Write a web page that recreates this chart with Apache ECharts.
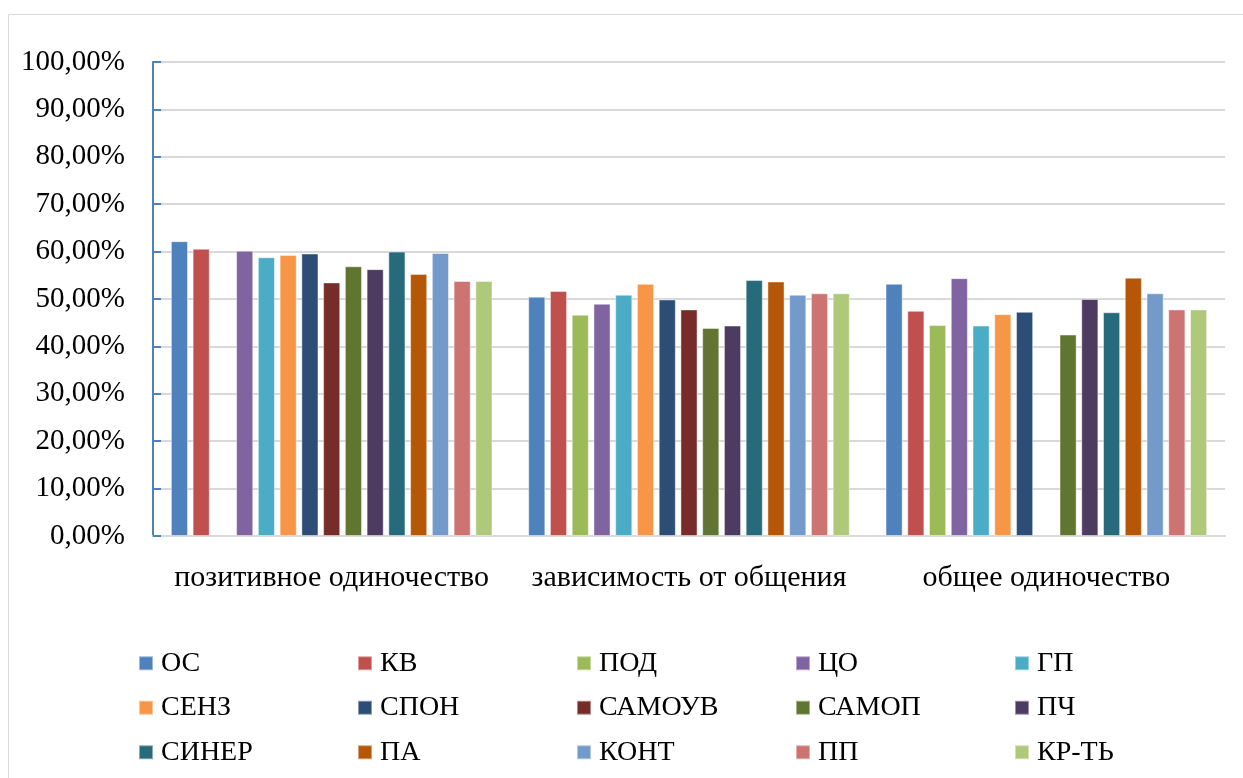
<!DOCTYPE html>
<html>
<head>
<meta charset="utf-8">
<script src="https://cdn.jsdelivr.net/npm/echarts@6/dist/echarts.min.js"></script>
<style>
  html, body { margin: 0; padding: 0; background: #fff; }
  #chart { width: 1243px; height: 778px; }
</style>
</head>
<body>
<div id="chart"></div>
<script>
const categories = ['позитивное одиночество', 'зависимость от общения', 'общее одиночество'];
const seriesNames = ['ОС', 'КВ', 'ПОД', 'ЦО', 'ГП', 'СЕНЗ', 'СПОН', 'САМОУВ', 'САМОП', 'ПЧ', 'СИНЕР', 'ПА', 'КОНТ', 'ПП', 'КР-ТЬ'];
const colors = ['#4F81BD', '#C0504D', '#9BBB59', '#8064A2', '#4BACC6', '#F79646', '#2C4D75', '#772C2A',
  '#5F7530', '#4D3B62', '#276A7C', '#B65708', '#729ACA', '#CD7371', '#AFC97A'];
// values per series, in % for the three categories (null = no bar)
const vOS = [62.2, 50.5, 53.2];
const vKV = [60.6, 51.7, 47.5];
const vPOD = [null, 46.7, 44.5];
const vCO = [60.2, 49.0, 54.4];
const vGP = [58.8, 50.9, 44.4];
const vSENZ = [59.3, 53.2, 46.8];
const vSPON = [59.6, 49.9, 47.3];
const vSAMOUV = [53.5, 47.8, null];
const vSAMOP = [56.9, 43.9, 42.5];
const vPCH = [56.3, 44.4, 50.0];
const vSINER = [60.0, 54.0, 47.2];
const vPA = [55.3, 53.7, 54.5];
const vKONT = [59.7, 50.9, 51.2];
const vPP = [53.8, 51.2, 47.8];
const vKRT = [53.8, 51.2, 47.8];
const allValues = [vOS, vKV, vPOD, vCO, vGP, vSENZ, vSPON, vSAMOUV, vSAMOP, vPCH, vSINER, vPA, vKONT, vPP, vKRT];

const font = 'Times New Roman, Liberation Serif, DejaVu Serif, serif';
const myChart = echarts.init(document.getElementById('chart'));

const option = {
  animation: false,
  color: colors,
  textStyle: { fontFamily: font },
  graphic: [{
    type: 'rect',
    shape: { x: 8.5, y: 14.5, width: 1400, height: 1000 },
    style: { fill: 'none', stroke: '#d9d9d9', lineWidth: 1 },
    silent: true
  }],
  grid: { left: 153, right: 18, top: 62, bottom: 242 },
  legend: {
    data: seriesNames,
    left: 138,
    top: 641,
    padding: 0,
    width: 1100,
    itemWidth: 14,
    itemHeight: 14,
    itemGap: 0,
    icon: 'rect',
    textStyle: {
      fontFamily: font,
      fontSize: 28,
      color: '#000',
      width: 196,
      lineHeight: 44.5,
      padding: [0, 0, 0, 3]
    }
  },
  xAxis: {
    type: 'category',
    data: categories,
    axisLine: { lineStyle: { color: '#d9d9d9', width: 2 } },
    axisTick: { show: false },
    axisLabel: { fontFamily: font, fontSize: 30, color: '#000', margin: 27, interval: 0 }
  },
  yAxis: {
    type: 'value',
    min: 0,
    max: 100,
    interval: 10,
    axisLine: { show: true, lineStyle: { color: '#4F81BD', width: 2 } },
    axisTick: { show: true, inside: true, length: 8, lineStyle: { color: '#4F81BD', width: 2 } },
    splitLine: { lineStyle: { color: '#d9d9d9', width: 2 } },
    axisLabel: {
      fontFamily: font, fontSize: 29, color: '#000', margin: 28,
      formatter: v => v.toFixed(2).replace('.', ',') + '%'
    }
  },
  series: seriesNames.map((name, i) => ({
    name: name,
    type: 'bar',
    data: allValues[i],
    barCategoryGap: '10%',
    barGap: '27%',
    itemStyle: { borderColor: 'rgba(255,255,255,0.45)', borderWidth: 1 }
  }))
};

myChart.setOption(option);
</script>
</body>
</html>
